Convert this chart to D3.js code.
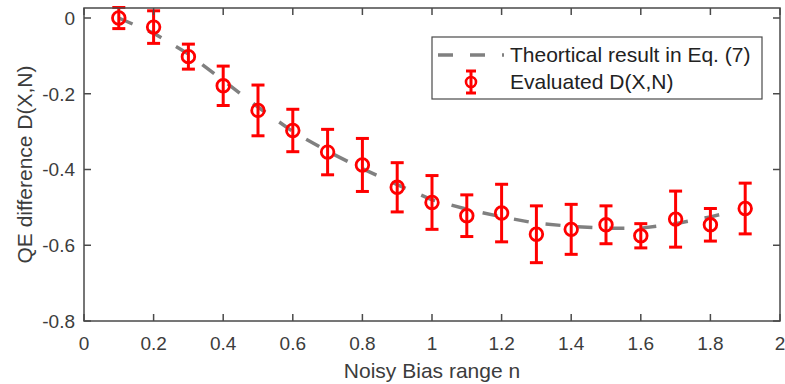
<!DOCTYPE html>
<html>
<head>
<meta charset="utf-8">
<script src="https://cdn.jsdelivr.net/npm/d3@7"></script>
<style>
  html, body { margin: 0; padding: 0; background: #fff; }
  svg { display: block; }
</style>
</head>
<body>
<div id="chart"></div>
<script>
const WIDTH = 785;
const HEIGHT = 384;

const AXIS_COLOR = '#4a4a4a';
const TEXT_COLOR = '#3c3c3c';
const RED = '#ff0000';
const GREY = '#808080';
const FONT = "'Liberation Sans', Arial, sans-serif";

// evaluated points with error bars
const nValues = [0.1, 0.2, 0.3, 0.4, 0.5, 0.6, 0.7, 0.8, 0.9, 1.0, 1.1, 1.2, 1.3, 1.4, 1.5, 1.6, 1.7, 1.8, 1.9];
const dMeans = [0.000, -0.024, -0.102, -0.179, -0.244, -0.297, -0.354, -0.388, -0.447, -0.487, -0.522, -0.515, -0.571, -0.558, -0.546, -0.575, -0.531, -0.546, -0.503];
const dErrors = [0.028, 0.043, 0.033, 0.052, 0.067, 0.056, 0.060, 0.070, 0.065, 0.071, 0.055, 0.076, 0.075, 0.066, 0.050, 0.032, 0.074, 0.043, 0.067];

// theoretical curve (Eq. 7)
const theoryN = [0.1, 0.2, 0.3, 0.4, 0.5, 0.6, 0.7, 0.8, 0.9, 1.0, 1.1, 1.2, 1.3, 1.4, 1.5, 1.6, 1.7, 1.8, 1.86];
const theoryD = [0.000, -0.040, -0.095, -0.165, -0.235, -0.300, -0.352, -0.398, -0.440, -0.480, -0.505, -0.525, -0.542, -0.550, -0.555, -0.555, -0.543, -0.525, -0.512];

const xTicks = [0, 0.2, 0.4, 0.6, 0.8, 1, 1.2, 1.4, 1.6, 1.8, 2];
const yTicks = [0, -0.2, -0.4, -0.6, -0.8];
const xTickLabels = ['0', '0.2', '0.4', '0.6', '0.8', '1', '1.2', '1.4', '1.6', '1.8', '2'];
const yTickLabels = ['0', '-0.2', '-0.4', '-0.6', '-0.8'];

const legendLabels = ['Theortical result in Eq. (7)', 'Evaluated D(X,N)'];

const plot = { left: 84, right: 780, top: 8, bottom: 321 };

const x = d3.scaleLinear().domain([0, 2]).range([plot.left, plot.right]);
const y = d3.scaleLinear().domain([-0.8, 0.0264]).range([plot.bottom, plot.top]);

const svg = d3.select('#chart').append('svg')
    .attr('width', WIDTH)
    .attr('height', HEIGHT)
    .style('font-family', FONT);

svg.append('clipPath').attr('id', 'plot-clip')
    .append('rect')
    .attr('x', plot.left).attr('y', plot.top - 2)
    .attr('width', plot.right - plot.left).attr('height', plot.bottom - plot.top + 2);

// theoretical dashed line
const line = d3.line().x((d, i) => x(theoryN[i])).y(d => y(d));
svg.append('path')
    .datum(theoryD)
    .attr('d', line)
    .attr('fill', 'none')
    .attr('stroke', GREY)
    .attr('stroke-width', 3.5)
    .attr('stroke-dasharray', '15,17');

// error bars + markers
const points = nValues.map((n, i) => ({ n, m: dMeans[i], e: dErrors[i] }));
const CAP = 6.5;
const pts = svg.append('g')
    .attr('clip-path', 'url(#plot-clip)')
    .attr('stroke', RED)
    .attr('fill', 'none')
    .attr('stroke-width', 3);

pts.selectAll('line.bar').data(points).join('line')
    .attr('x1', d => x(d.n)).attr('x2', d => x(d.n))
    .attr('y1', d => y(d.m + d.e)).attr('y2', d => y(d.m - d.e));
pts.selectAll('line.capTop').data(points).join('line')
    .attr('x1', d => x(d.n) - CAP).attr('x2', d => x(d.n) + CAP)
    .attr('y1', d => y(d.m + d.e)).attr('y2', d => y(d.m + d.e));
pts.selectAll('line.capBot').data(points).join('line')
    .attr('x1', d => x(d.n) - CAP).attr('x2', d => x(d.n) + CAP)
    .attr('y1', d => y(d.m - d.e)).attr('y2', d => y(d.m - d.e));
pts.selectAll('circle').data(points).join('circle')
    .attr('cx', d => x(d.n)).attr('cy', d => y(d.m))
    .attr('r', 6.3)
    .attr('stroke-width', 2.8);

// axes box
const axes = svg.append('g').attr('stroke', AXIS_COLOR).attr('stroke-width', 1.5).attr('fill', 'none');
axes.append('rect')
    .attr('x', plot.left).attr('y', plot.top)
    .attr('width', plot.right - plot.left).attr('height', plot.bottom - plot.top);

const TICK = 7;
xTicks.forEach(t => {
    axes.append('line').attr('x1', x(t)).attr('x2', x(t)).attr('y1', plot.bottom).attr('y2', plot.bottom - TICK);
    axes.append('line').attr('x1', x(t)).attr('x2', x(t)).attr('y1', plot.top).attr('y2', plot.top + TICK);
});
yTicks.forEach(t => {
    axes.append('line').attr('x1', plot.left).attr('x2', plot.left + TICK).attr('y1', y(t)).attr('y2', y(t));
    axes.append('line').attr('x1', plot.right).attr('x2', plot.right - TICK).attr('y1', y(t)).attr('y2', y(t));
});

// tick labels
svg.append('g').selectAll('text').data(xTicks).join('text')
    .attr('x', d => x(d)).attr('y', plot.bottom + 29)
    .attr('text-anchor', 'middle')
    .attr('fill', TEXT_COLOR)
    .style('font-size', '19px')
    .text((d, i) => xTickLabels[i]);
svg.append('g').selectAll('text').data(yTicks).join('text')
    .attr('x', plot.left - 9).attr('y', d => y(d) + 7)
    .attr('text-anchor', 'end')
    .attr('fill', TEXT_COLOR)
    .style('font-size', '19px')
    .text((d, i) => yTickLabels[i]);

// axis titles
svg.append('text')
    .attr('x', (plot.left + plot.right) / 2).attr('y', 378)
    .attr('text-anchor', 'middle')
    .attr('fill', TEXT_COLOR)
    .style('font-size', '21px')
    .text('Noisy Bias range n');
svg.append('text')
    .attr('transform', `translate(32,${(plot.top + plot.bottom) / 2}) rotate(-90)`)
    .attr('text-anchor', 'middle')
    .attr('fill', TEXT_COLOR)
    .style('font-size', '21px')
    .text('QE difference D(X,N)');

// legend
const legend = svg.append('g');
legend.append('rect')
    .attr('x', 432).attr('y', 37)
    .attr('width', 330).attr('height', 62)
    .attr('fill', '#fff')
    .attr('stroke', AXIS_COLOR)
    .attr('stroke-width', 1.2);
legend.append('line')
    .attr('x1', 438).attr('x2', 504).attr('y1', 55).attr('y2', 55)
    .attr('stroke', GREY).attr('stroke-width', 3.5)
    .attr('stroke-dasharray', '15,17');
const lm = legend.append('g').attr('stroke', RED).attr('fill', 'none').attr('stroke-width', 3);
lm.append('line').attr('x1', 471).attr('x2', 471).attr('y1', 71).attr('y2', 93);
lm.append('line').attr('x1', 466).attr('x2', 476).attr('y1', 71).attr('y2', 71);
lm.append('line').attr('x1', 466).attr('x2', 476).attr('y1', 93).attr('y2', 93);
lm.append('circle').attr('cx', 471).attr('cy', 82).attr('r', 5).attr('stroke-width', 2.6);
legend.selectAll('text').data(legendLabels).join('text')
    .attr('x', 510).attr('y', (d, i) => 62 + i * 27)
    .attr('fill', '#222')
    .style('font-size', '21px')
    .text(d => d);
</script>
</body>
</html>
